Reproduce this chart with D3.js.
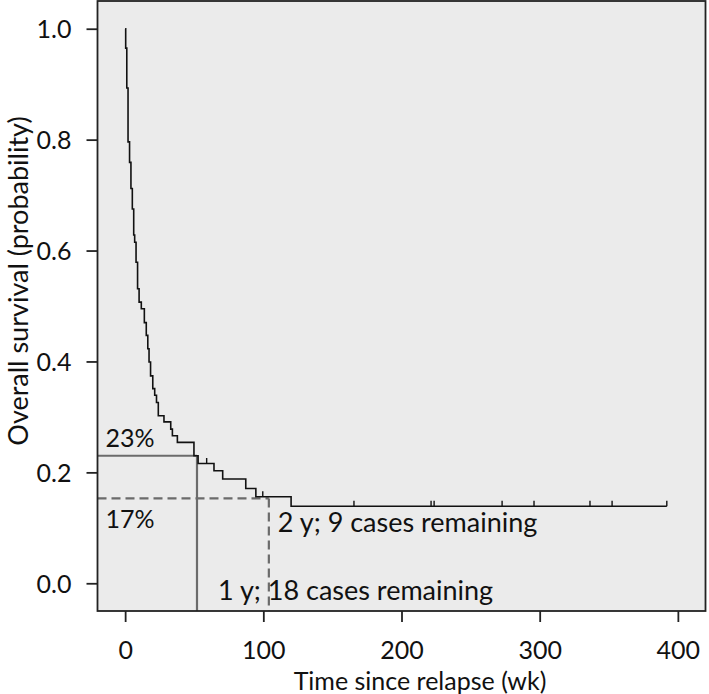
<!DOCTYPE html>
<html>
<head>
<meta charset="utf-8">
<script src="https://cdn.jsdelivr.net/npm/d3@7"></script>
<style>
  body { margin: 0; background: #fff; }
  svg text { font-family: Lato, "Open Sans", sans-serif; fill: #111; }
</style>
</head>
<body>
<svg id="chart" width="709" height="694"></svg>
<script>
// Kaplan-Meier steps (weeks, survival after each drop)
const stepTimes = [0.4, 1.2, 2.1, 3.2, 4.2, 5.2, 6.2, 6.9, 7.9, 9.0, 10.1, 11.7, 13.9, 15.3, 16.4,
    17.3, 18.4, 20.0, 21.4, 22.7, 24.0, 28.1, 33.0, 34.2, 37.8, 49.8, 52.8, 64.3, 70.6, 87.3, 94.6, 120.1];
const stepSurv = [0.965, 0.893, 0.796, 0.759, 0.712, 0.675, 0.628, 0.615, 0.579, 0.531, 0.507, 0.495,
    0.470, 0.447, 0.423, 0.399, 0.374, 0.351, 0.339, 0.326, 0.302, 0.291, 0.278, 0.266, 0.254, 0.230,
    0.216, 0.203, 0.188, 0.171, 0.156, 0.139];
const lastTime = 392;
const censorTimes = [59, 99.6, 165.6, 221.4, 223.6, 272.8, 295.9, 336.4, 352.4, 392];

const xTicks = [0, 100, 200, 300, 400];
const yTicks = [0.0, 0.2, 0.4, 0.6, 0.8, 1.0];

// reference marks: 1 y and 2 y
const refTimes = [52, 104];
const refSurv = [0.23, 0.153];
const refLabels = ["23%", "17%"];
const refNotes = ["1 y; 18 cases remaining", "2 y; 9 cases remaining"];

const svg = d3.select("#chart");

const x = d3.scaleLinear().domain([-20, 420]).range([97.5, 705.5]);
const y = d3.scaleLinear().domain([-0.05, 1.05]).range([611, 1]);

// plot background
svg.append("rect")
    .attr("x", x(-20)).attr("y", y(1.05))
    .attr("width", x(420) - x(-20)).attr("height", y(-0.05) - y(1.05))
    .attr("fill", "#ebebeb");

// reference lines
const refColor = "#6b6b6b";
refTimes.forEach((t, i) => {
    const dash = i === 0 ? null : "9,5";
    svg.append("line")
        .attr("x1", x(-20)).attr("x2", x(t))
        .attr("y1", y(refSurv[i])).attr("y2", y(refSurv[i]))
        .attr("stroke", refColor).attr("stroke-width", 2.2)
        .attr("stroke-dasharray", dash);
    svg.append("line")
        .attr("x1", x(t)).attr("x2", x(t))
        .attr("y1", y(refSurv[i])).attr("y2", y(-0.05))
        .attr("stroke", refColor).attr("stroke-width", 2.2)
        .attr("stroke-dasharray", dash);
});

// survival curve
let pts = [[0, 1]];
stepTimes.forEach((t, i) => pts.push([t, stepSurv[i]]));
pts.push([lastTime, stepSurv[stepSurv.length - 1]]);

const line = d3.line()
    .x(d => x(d[0]))
    .y(d => y(d[1]))
    .curve(d3.curveStepAfter);

svg.append("path")
    .datum(pts)
    .attr("d", line)
    .attr("fill", "none")
    .attr("stroke", "#111")
    .attr("stroke-width", 1.6);

// censor ticks
function survAt(t) {
    let s = 1;
    stepTimes.forEach((st, i) => { if (st <= t) s = stepSurv[i]; });
    return s;
}
svg.selectAll(".censor")
    .data(censorTimes)
    .enter().append("line")
    .attr("class", "censor")
    .attr("x1", d => x(d)).attr("x2", d => x(d))
    .attr("y1", d => y(survAt(d))).attr("y2", d => y(survAt(d)) - 5.5)
    .attr("stroke", "#111").attr("stroke-width", 1.4);

// frame
svg.append("rect")
    .attr("x", x(-20)).attr("y", y(1.05))
    .attr("width", x(420) - x(-20)).attr("height", y(-0.05) - y(1.05))
    .attr("fill", "none")
    .attr("stroke", "#222").attr("stroke-width", 1.8);

// axes
const xAxis = d3.axisBottom(x).tickValues(xTicks).tickSize(11).tickPadding(19)
    .tickFormat(d3.format("d"));
const gx = svg.append("g")
    .attr("transform", "translate(0," + y(-0.05) + ")")
    .call(xAxis);
const yAxis = d3.axisLeft(y).tickValues(yTicks).tickSize(11).tickPadding(15)
    .tickFormat(d3.format(".1f"));
const gy = svg.append("g")
    .attr("transform", "translate(" + x(-20) + ",0)")
    .call(yAxis);

[gx, gy].forEach(g => {
    g.select(".domain").remove();
    g.selectAll(".tick line").attr("stroke", "#222").attr("stroke-width", 1.8);
    g.selectAll(".tick text")
        .attr("font-size", 25)
        .attr("font-family", "Lato, sans-serif")
        .attr("fill", "#111");
});
gy.selectAll(".tick text").attr("dy", "0.35em");

// axis titles
svg.append("text")
    .attr("x", 420).attr("y", 690)
    .attr("text-anchor", "middle")
    .attr("font-size", 25)
    .text("Time since relapse (wk)");

svg.append("text")
    .attr("transform", "translate(28,281) rotate(-90)")
    .attr("text-anchor", "middle")
    .attr("font-size", 27)
    .text("Overall survival (probability)");

// annotations
svg.append("text")
    .attr("x", x(-20) + 8).attr("y", y(refSurv[0]) - 9)
    .attr("font-size", 25)
    .text(refLabels[0]);
svg.append("text")
    .attr("x", x(-20) + 8).attr("y", y(refSurv[1]) + 30)
    .attr("font-size", 25)
    .text(refLabels[1]);
svg.append("text")
    .attr("x", x(refTimes[1]) + 9).attr("y", y(refSurv[1]) + 34)
    .attr("font-size", 27)
    .text(refNotes[1]);
svg.append("text")
    .attr("x", x(refTimes[0]) + 21).attr("y", y(-0.05) - 11)
    .attr("font-size", 27)
    .text(refNotes[0]);
</script>
</body>
</html>
